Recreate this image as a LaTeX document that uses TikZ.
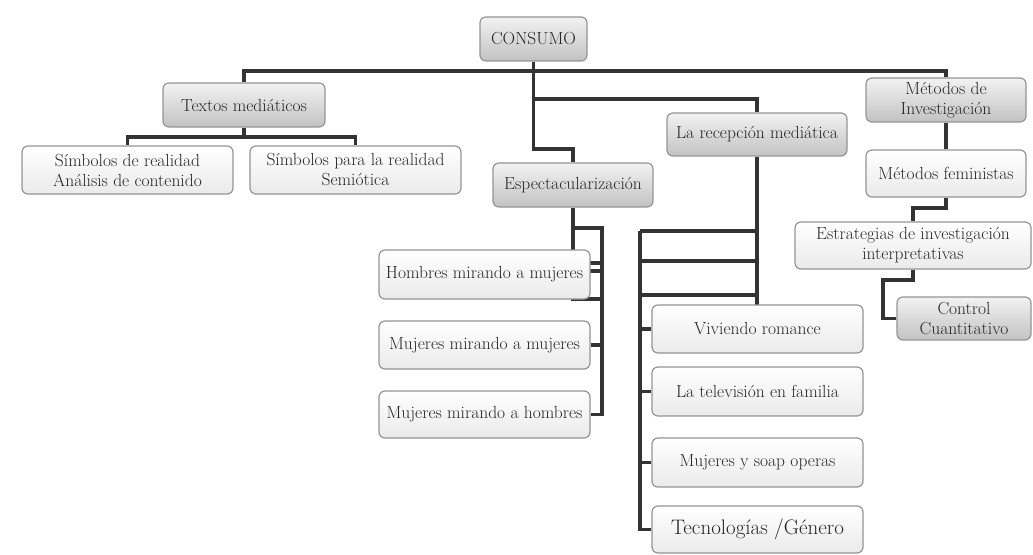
\documentclass[tikz,border=0pt]{standalone}
\usetikzlibrary{backgrounds}
\definecolor{lineC}{HTML}{333333}
\definecolor{borderC}{HTML}{959595}
\definecolor{textC}{HTML}{262626}
\definecolor{gTop}{HTML}{F2F2F2}
\definecolor{gBot}{HTML}{C2C2C2}
\definecolor{wBot}{HTML}{EAEAEA}
\begin{document}
\begin{tikzpicture}[x=1pt,y=-1pt,
  box/.style={draw=borderC, line width=1.2pt, rounded corners=6pt, align=center,
    inner sep=0pt, font=\fontsize{17.5}{20}\selectfont, text=textC},
  gbox/.style={box, top color=gTop, bottom color=gBot},
  wbox/.style={box, top color=white, bottom color=wBot},
  conn/.style={draw=lineC, line width=3.1pt}]
\useasboundingbox (0,0) rectangle (1033,554);

% boxes
\node[gbox, minimum width=107pt, minimum height=44pt] (consumo) at (533.5,39) {CONSUMO};
\node[gbox, minimum width=162pt, minimum height=44pt] (textos) at (244,105) {Textos mediáticos};
\node[wbox, minimum width=211pt, minimum height=48pt] (simb1) at (127.5,170) {Símbolos de realidad\\Análisis de contenido};
\node[wbox, minimum width=211pt, minimum height=48pt] (simb2) at (355.5,170) {Símbolos para la realidad\\Semiótica};
\node[gbox, minimum width=160pt, minimum height=44pt] (espect) at (573,185) {Espectacularización};
\node[gbox, minimum width=180pt, minimum height=43pt] (recep) at (757,134.5) {La recepción mediática};
\node[gbox, minimum width=160pt, minimum height=44pt] (metinv) at (946,100) {Métodos de\\Investigación};
\node[wbox, minimum width=160pt, minimum height=47pt] (metfem) at (946,173.5) {Métodos feministas};
\node[wbox, minimum width=236pt, minimum height=47pt] (estrat) at (913,245.5) {Estrategias de investigación\\interpretativas};
\node[gbox, minimum width=134pt, minimum height=43pt] (control) at (964,318.5) {Control\\Cuantitativo};
\node[wbox, minimum width=211pt, minimum height=49pt] (hombres) at (484.5,274.5) {Hombres mirando a mujeres};
\node[wbox, minimum width=211pt, minimum height=48pt] (mujmuj) at (484.5,345) {Mujeres mirando a mujeres};
\node[wbox, minimum width=211pt, minimum height=47pt] (mujhom) at (484.5,414.5) {Mujeres mirando a hombres};
\node[wbox, minimum width=211pt, minimum height=48pt] (viviendo) at (757.5,329) {Viviendo romance};
\node[wbox, minimum width=211pt, minimum height=49pt] (telev) at (757.5,391.5) {La televisión en familia};
\node[wbox, minimum width=211pt, minimum height=49pt] (soap) at (757.5,462.5) {Mujeres y soap operas};
\node[wbox, minimum width=211pt, minimum height=47pt, font=\fontsize{21}{24}\selectfont] (tecno) at (757.5,529.5) {Tecnologías /Género};

% junction coordinates
\coordinate (hL) at (244,71);
\coordinate (hR) at (946,71);
\coordinate (e1) at (533.5,149);
\coordinate (e2) at (573,149);
\coordinate (r1) at (533.5,99);
\coordinate (r2) at (757,99);
\coordinate (t0) at (244,137);
\coordinate (t1) at (127.5,137);
\coordinate (t2) at (355.5,137);
\coordinate (s0) at (573,299);
\coordinate (s1) at (602,299);
\coordinate (sT) at (573,228);
\coordinate (sR0) at (602,228);
\coordinate (sR5) at (602,414.5);
\coordinate (sa1) at (590,263);
\coordinate (sb1) at (602,263);
\coordinate (sa2) at (590,271);
\coordinate (sb2) at (602,271);
\coordinate (sm) at (602,345);
\coordinate (v0) at (757,305);
\coordinate (vA) at (757,231);
\coordinate (vB) at (757,261);
\coordinate (vC) at (757,295);
\coordinate (lA) at (640,231);
\coordinate (lB) at (640,261);
\coordinate (lC) at (640,295);
\coordinate (l1) at (640,329);
\coordinate (l2) at (640,391.5);
\coordinate (l3) at (640,462.5);
\coordinate (l4) at (640,529.5);
\coordinate (m1) at (946,208);
\coordinate (m2) at (913,208);
\coordinate (m3) at (913,280);
\coordinate (m4) at (883,280);
\coordinate (m5) at (883,318.5);

\begin{scope}[on background layer]
\fill[white] (0,0) rectangle (1033,554);
\draw[conn] (textos.north) -- (hL) -- (hR) -- (metinv.north);
\draw[conn] (consumo.south) -- (e1) -- (e2) -- (espect.north);
\draw[conn] (r1) -- (r2) -- (recep.north);
\draw[conn] (textos.south) -- (t0);
\draw[conn] (simb1.north) -- (t1) -- (t2) -- (simb2.north);
\draw[conn] (espect.south) -- (s0) -- (s1);
\draw[conn] (sT) -- (sR0) -- (sR5) -- (mujhom.east);
\draw[conn] (sa1) -- (sb1);
\draw[conn] (sa2) -- (sb2);
\draw[conn] (mujmuj.east) -- (sm);
\draw[conn] (recep.south) -- (v0);
\draw[conn] (vA) -- (lA);
\draw[conn] (vB) -- (lB);
\draw[conn] (vC) -- (lC);
\draw[conn] (lA) -- (l4) -- (tecno.west);
\draw[conn] (l1) -- (viviendo.west);
\draw[conn] (l2) -- (telev.west);
\draw[conn] (l3) -- (soap.west);
\draw[conn] (metinv.south) -- (metfem.north);
\draw[conn] (metfem.south) -- (m1) -- (m2) -- (estrat.north);
\draw[conn] (estrat.south) -- (m3) -- (m4) -- (m5) -- (control.west);
\end{scope}
\end{tikzpicture}
\end{document}
